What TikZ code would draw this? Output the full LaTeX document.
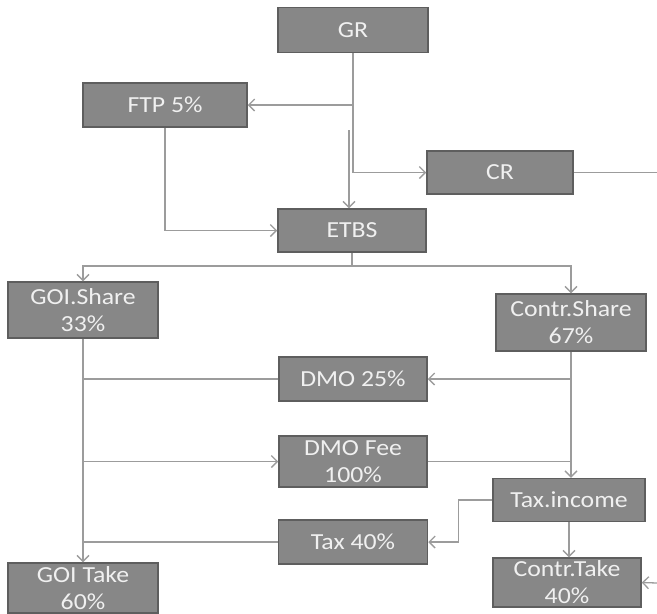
\documentclass[tikz,border=0pt]{standalone}
\usepackage{fontspec}
\setmainfont{Carlito}[FakeStretch=1.12]
\usepackage{tikz}
\usetikzlibrary{arrows.meta}

\definecolor{boxfill}{HTML}{878787}
\definecolor{boxline}{HTML}{5E5E5E}
\definecolor{linkgray}{HTML}{9C9C9C}

\begin{document}
\begin{tikzpicture}[%
        x = 1pt,
        y = -1pt,
        box/.style = {%
            draw = boxline,
            fill = boxfill,
            line width = 1.5pt,
            text = white!94!black,
            align = center,
            inner sep = 0pt,
            font = \fontsize{23}{27}\selectfont
        },
        link/.style = {%
            draw = linkgray,
            line width = 1.3pt,
            ->
        },
        plain/.style = {%
            draw = linkgray,
            line width = 1.3pt
        },
        > = {Straight Barb[length = 6pt, width = 12pt]}
    ]

        \useasboundingbox (0, 0) rectangle (657, 614);

        % Top row: gross revenue and what is split off it.
        \node[box, minimum width = 150pt, minimum height = 45pt] (gr) at (353, 30) {GR};
        \node[box, minimum width = 164pt, minimum height = 44pt] (ftp) at (165, 105) {FTP 5\%};
        \node[box, minimum width = 146pt, minimum height = 43pt] (cr) at (500, 172.5) {CR};
        \node[box, minimum width = 148pt, minimum height = 43pt] (etbs) at (352, 230.5) {ETBS};

        % The two shares.
        \node[box, minimum width = 150pt, minimum height = 56pt] (goishare) at (83, 310) {GOI.Share\\33\%};
        \node[box, minimum width = 150pt, minimum height = 57pt] (contrshare) at (571, 322.5) {Contr.Share\\67\%};

        % Middle column.
        \node[box, minimum width = 148pt, minimum height = 44pt] (dmo) at (353, 379) {DMO 25\%};
        \node[box, minimum width = 148pt, minimum height = 51pt] (dmofee) at (353, 461.5) {DMO Fee\\100\%};
        \node[box, minimum width = 149pt, minimum height = 44pt] (tax) at (353, 542) {Tax 40\%};
        \node[box, minimum width = 152pt, minimum height = 43pt] (taxinc) at (569, 500) {Tax.income};

        % Final takes.
        \node[box, minimum width = 150pt, minimum height = 50pt] (goitake) at (83, 588) {GOI Take\\60\%};
        \node[box, minimum width = 148pt, minimum height = 49pt] (contrtake) at (567, 582.5) {Contr.Take\\40\%};

        % Loose ends of the connectors.
        \coordinate (gap) at (349, 130);
        \coordinate (fork) at (352, 266);
        \coordinate (crout) at (657, 172.5);
        \coordinate (takein) at (657, 583);

        % From GR down to CR, FTP and ETBS.
        \draw[link] (gr.south) |- (cr.west);
        \draw[link] (gr.south |- ftp.east) -- (ftp.east);
        \draw[link] (gap) -- (gap |- etbs.north);
        \draw[link] (ftp.south) |- (etbs.west);
        \draw[plain] (cr.east) -- (crout);

        % ETBS splits into the two shares.
        \draw[plain] (etbs.south) -- (fork);
        \draw[link] (fork) -| (goishare.north);
        \draw[link] (fork) -| (contrshare.north);

        % Government side.
        \draw[link] (goishare.south) -- (goitake.north);
        \draw[plain] (dmo.west) -- (dmo.west -| goishare.south);
        \draw[link] (goishare.south |- dmofee.west) -- (dmofee.west);
        \draw[plain] (tax.west) -- (tax.west -| goishare.south);

        % Contractor side.
        \draw[link] (contrshare.south) -- (contrshare.south |- taxinc.north);
        \draw[link] (contrshare.south |- dmo.east) -- (dmo.east);
        \draw[plain] (dmofee.east) -- (dmofee.east -| contrshare.south);
        \draw[link] (taxinc.west) -- ++(-34, 0) |- (tax.east);
        \draw[link] (taxinc.south) -- (taxinc.south |- contrtake.north);
        \draw[link] (takein) -- (contrtake.east);
    \end{tikzpicture}
\end{document}
